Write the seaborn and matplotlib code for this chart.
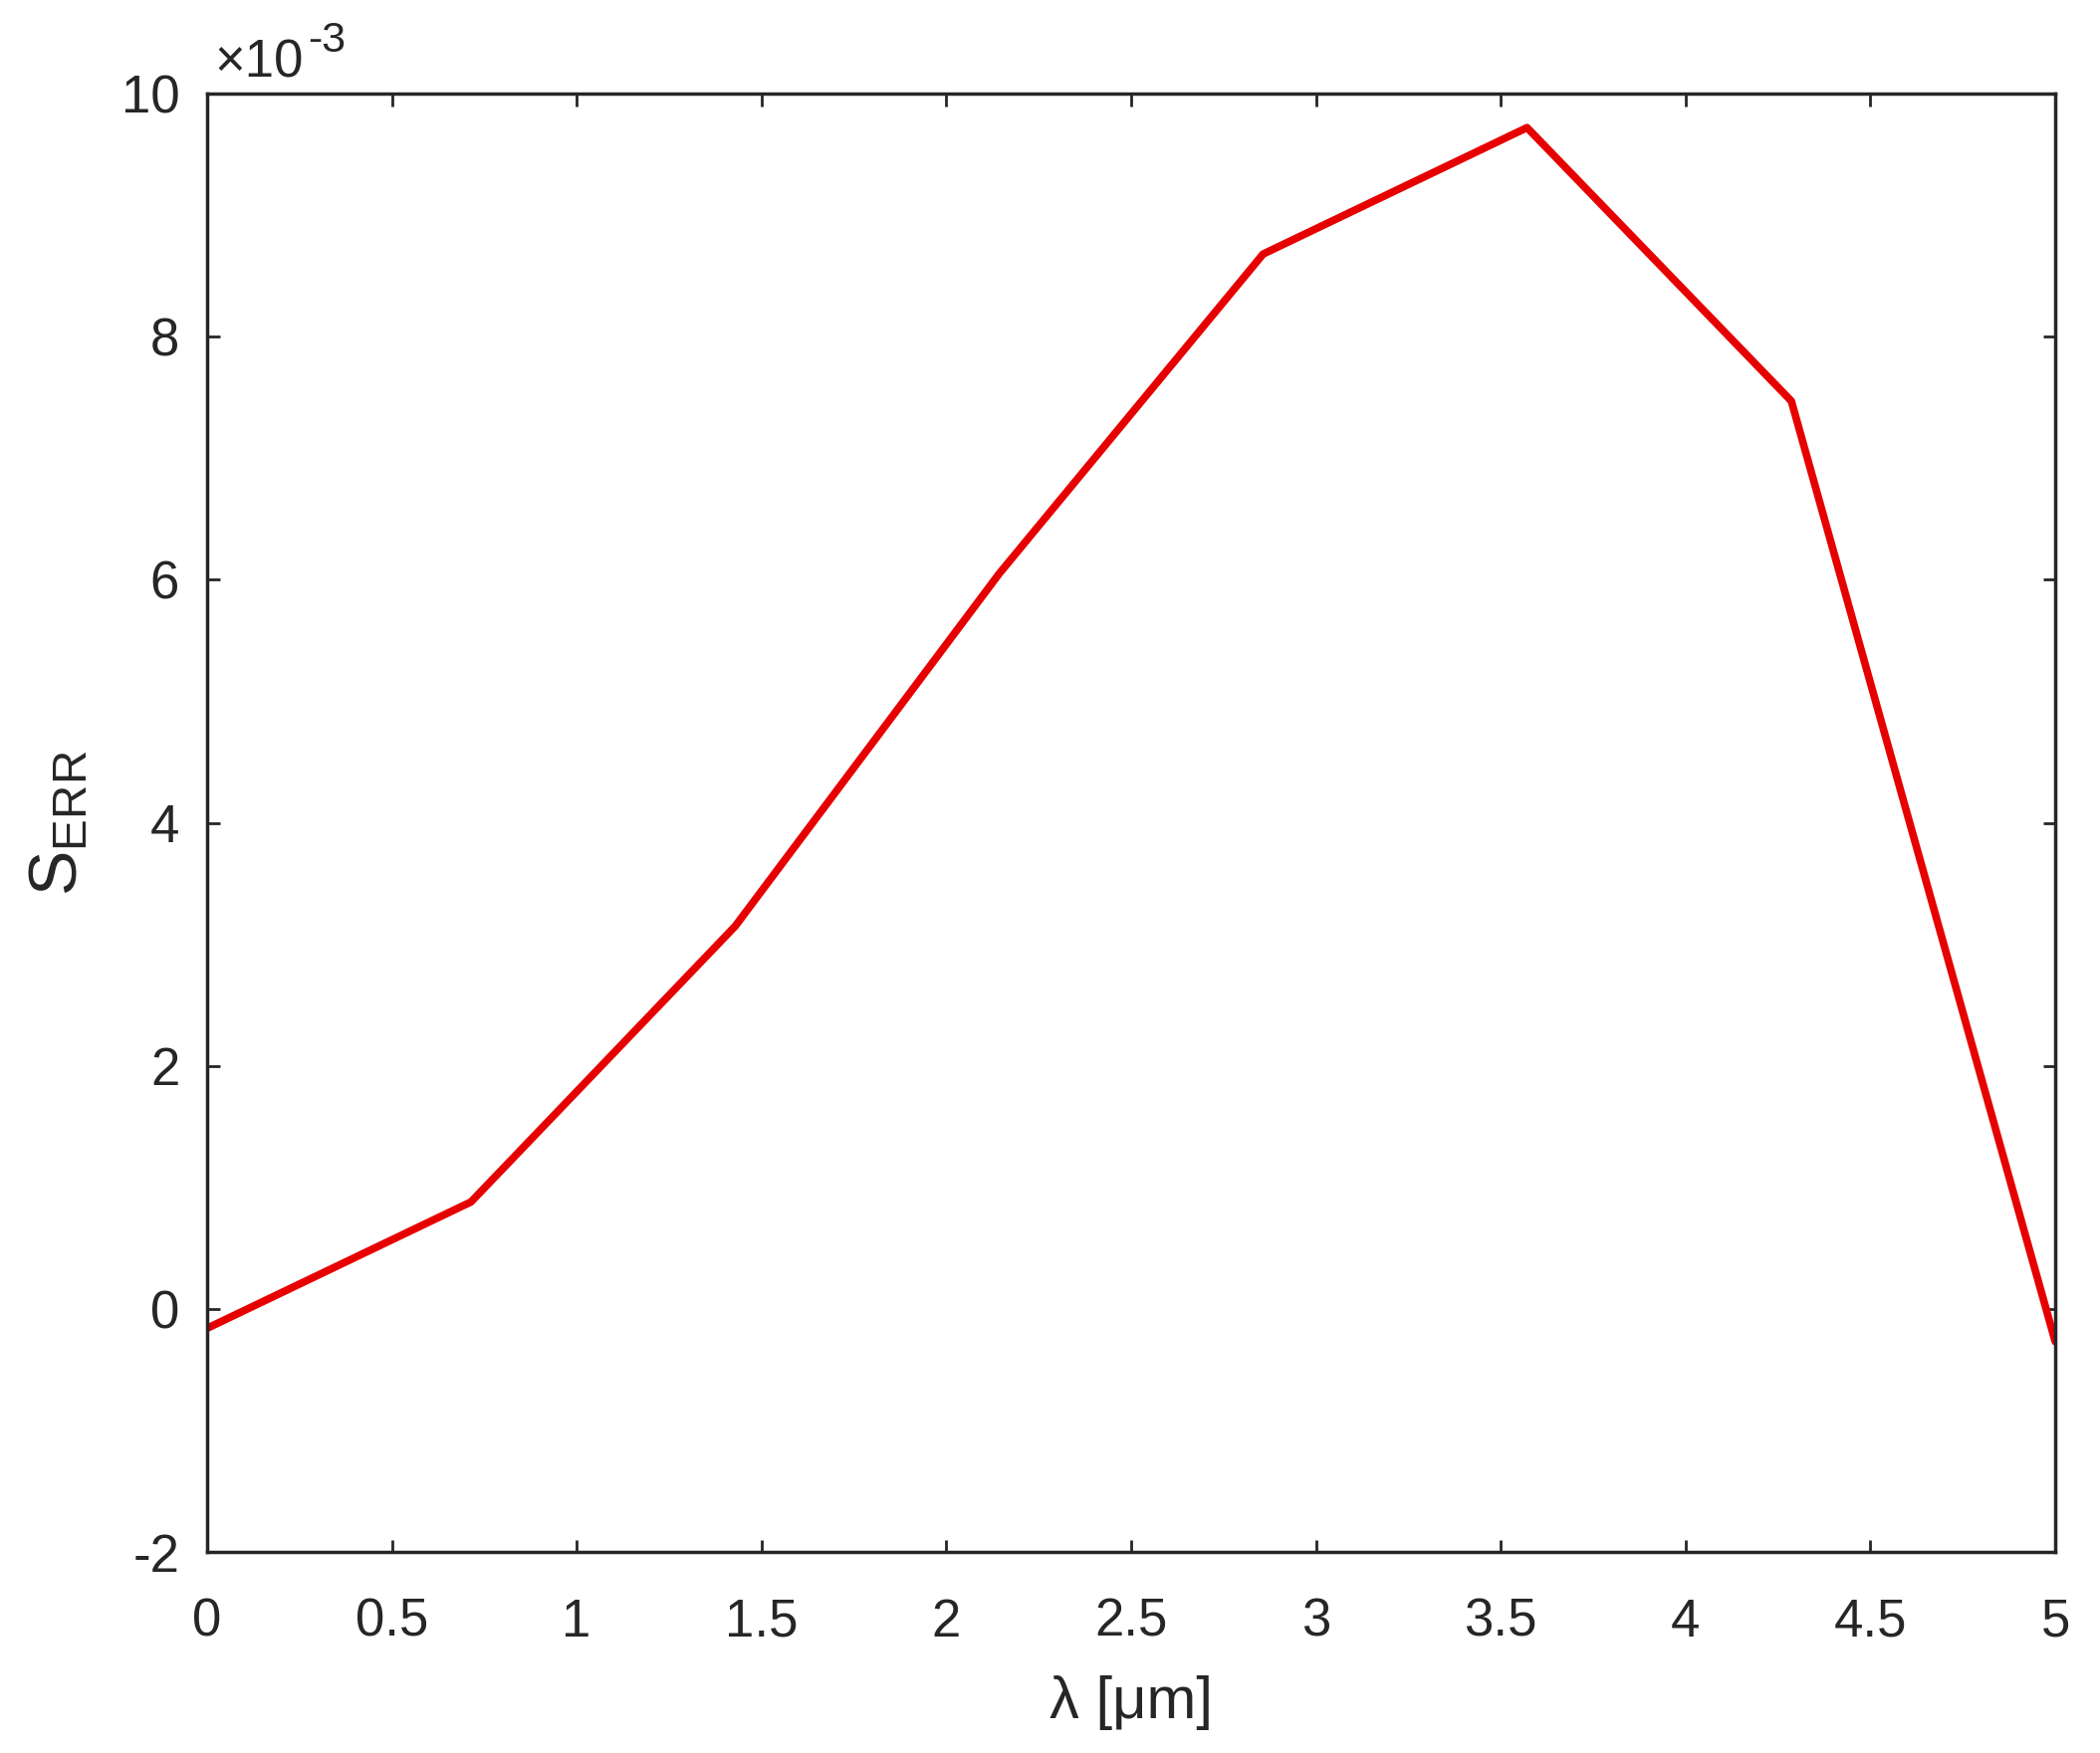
import numpy as np
import pandas as pd
import matplotlib
matplotlib.use('Agg')
import matplotlib.pyplot as plt
import seaborn as sns

# data (S_ERR in units of 1e-3)
wavelength = [0.0, 0.714, 1.429, 2.143, 2.857, 3.571, 4.286, 5.0]
s_err = [-0.16, 0.88, 3.15, 6.05, 8.68, 9.72, 7.47, -0.27]

x_ticks = [0, 0.5, 1, 1.5, 2, 2.5, 3, 3.5, 4, 4.5, 5]
x_tick_labels = ['0', '0.5', '1', '1.5', '2', '2.5', '3', '3.5', '4', '4.5', '5']
y_ticks = [-2, 0, 2, 4, 6, 8, 10]

df = pd.DataFrame({'Wavelength': wavelength, 'SERR': s_err})

sns.set_style("ticks")
plt.rcParams['font.family'] = ['Liberation Sans', 'DejaVu Sans']
plt.rcParams['mathtext.default'] = 'regular'
plt.rcParams['axes.unicode_minus'] = False

fig = plt.figure(figsize=(21.09, 17.61), dpi=100)
ax = fig.add_axes([0.0986, 0.1147, 0.8801, 0.8319])

sns.lineplot(
    data=df,
    x='Wavelength',
    y='SERR',
    color='#e60000',
    linewidth=5.5,
    ax=ax
)

ax.set_xlim(0, 5)
ax.set_ylim(-2, 10)
ax.set_xticks(x_ticks)
ax.set_xticklabels(x_tick_labels)
ax.set_yticks(y_ticks)

ax.tick_params(
    direction='in',
    top=True,
    right=True,
    length=9,
    width=2,
    labelsize=38,
    colors='#262626'
)
ax.tick_params(axis='x', pad=33)
ax.tick_params(axis='y', pad=20)
for side in ['top', 'bottom', 'left', 'right']:
    ax.spines[side].set_visible(True)
    ax.spines[side].set_linewidth(2.5)
    ax.spines[side].set_color('#262626')

ax.set_xlabel('λ [μm]', fontsize=43, color='#262626', labelpad=20)
ax.set_ylabel('S$_{ERR}$', fontsize=49, color='#262626', labelpad=22)

# exponent label, MATLAB style
fig.text(215 / 2109, 1 - 78 / 1761, '×10', fontsize=38,
         color='#262626', ha='left', va='baseline')
fig.text(309 / 2109, 1 - 52 / 1761, '-3', fontsize=31,
         color='#262626', ha='left', va='baseline')

fig.savefig('out.png', dpi=100)
